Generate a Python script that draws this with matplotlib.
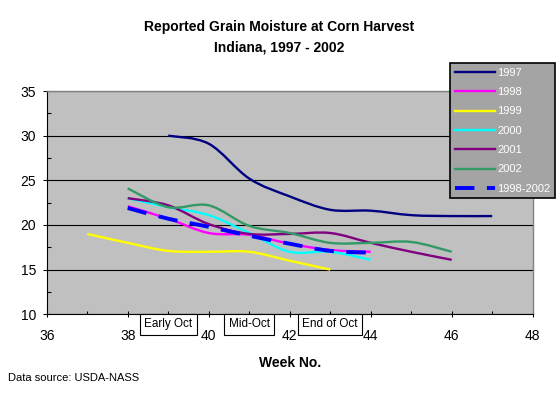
import matplotlib
matplotlib.use("Agg")
import matplotlib.pyplot as plt
import numpy as np
from matplotlib.path import Path
from matplotlib.patches import PathPatch
from matplotlib.lines import Line2D
from matplotlib.ticker import MultipleLocator

plt.rcParams['font.family'] = ['Liberation Sans', 'DejaVu Sans']

# moisture (%) by week number
weeks_1997 = [39, 40, 41, 42, 43, 44, 45, 46, 47]
moist_1997 = [30.0, 29.1, 25.2, 23.2, 21.7, 21.6, 21.1, 21.0, 21.0]

weeks_1998 = [38, 39, 40, 41, 42, 43, 44]
moist_1998 = [22.1, 20.7, 19.1, 18.9, 17.9, 17.2, 17.0]

weeks_1999 = [37, 38, 39, 40, 41, 42, 43]
moist_1999 = [19.0, 18.0, 17.1, 17.0, 17.0, 16.0, 15.0]

weeks_2000 = [38, 39, 40, 41, 42, 43, 44]
moist_2000 = [23.0, 22.0, 21.1, 19.1, 17.0, 17.0, 16.1]

weeks_2001 = [38, 39, 40, 41, 42, 43, 44, 45, 46]
moist_2001 = [23.0, 22.2, 20.1, 19.0, 19.0, 19.1, 18.0, 17.0, 16.1]

weeks_2002 = [38, 39, 40, 41, 42, 43, 44, 45, 46]
moist_2002 = [24.1, 22.0, 22.2, 19.9, 19.1, 18.0, 18.0, 18.1, 17.0]

weeks_avg = [38, 39, 40, 41, 42, 43, 44]
moist_avg = [21.9, 20.7, 19.8, 18.8, 17.9, 17.1, 16.9]

periods = ["Early Oct", "Mid-Oct", "End of Oct"]
period_weeks = [39, 41, 43]


def smooth_path(x, y):
    # excel style smoothed line: cubic bezier through every point
    pts = np.column_stack([x, y]).astype(float)
    n = len(pts)
    verts = [pts[0]]
    codes = [Path.MOVETO]
    for i in range(n - 1):
        p0 = pts[max(i - 1, 0)]
        p1 = pts[i]
        p2 = pts[i + 1]
        p3 = pts[min(i + 2, n - 1)]
        verts += [p1 + (p2 - p0) / 6, p2 - (p3 - p1) / 6, p2]
        codes += [Path.CURVE4] * 3
    return Path(verts, codes)


series = [
    ("1997", weeks_1997, moist_1997, "#000080", "-"),
    ("1998", weeks_1998, moist_1998, "#ff00ff", "-"),
    ("1999", weeks_1999, moist_1999, "#ffff00", "-"),
    ("2000", weeks_2000, moist_2000, "#00ffff", "-"),
    ("2001", weeks_2001, moist_2001, "#800080", "-"),
    ("2002", weeks_2002, moist_2002, "#339966", "-"),
    ("1998-2002", weeks_avg, moist_avg, "#0000ff", "--"),
]

fig = plt.figure(figsize=(5.58, 3.99), dpi=100)
ax = fig.add_axes([0.0837, 0.2123, 0.8710, 0.5596])
ax.set_facecolor("#c0c0c0")
ax.set_xlim(36, 48)
ax.set_ylim(10, 35)

ax.xaxis.set_major_locator(MultipleLocator(2))
ax.xaxis.set_minor_locator(MultipleLocator(1))
ax.yaxis.set_major_locator(MultipleLocator(5))
ax.yaxis.set_minor_locator(MultipleLocator(2.5))
ax.tick_params(axis="both", which="major", direction="inout", width=0.75,
               labelsize=10)
ax.tick_params(axis="y", which="major", length=5.5, pad=5)
ax.tick_params(axis="x", which="major", length=4.8, pad=8.5)
ax.tick_params(axis="y", which="minor", direction="in", length=2.8, width=0.75)
ax.tick_params(axis="x", which="minor", direction="in", length=2.2, width=0.75)
ax.tick_params(which="both", top=False, right=False)

ax.set_axisbelow(True)
ax.yaxis.grid(True, which="major", color="black", linewidth=0.8)

for side in ["top", "right"]:
    ax.spines[side].set_color("#808080")
    ax.spines[side].set_linewidth(1.0)
for side in ["left", "bottom"]:
    ax.spines[side].set_linewidth(0.8)

handles = []
for name, wk, val, col, ls in series:
    if ls == "--":
        lw = 2.8
        style = (0, (5.0, 3.2))
    else:
        lw = 1.7
        style = "-"
    patch = PathPatch(smooth_path(wk, val), fill=False, edgecolor=col,
                      linewidth=lw, linestyle=style, capstyle="butt",
                      joinstyle="round", zorder=3)
    ax.add_patch(patch)
    handles.append(Line2D([], [], color=col, linewidth=lw, linestyle=style,
                          label=name))

for label, wk in zip(periods, period_weeks):
    ax.annotate(label, xy=(wk, 0), xycoords=("data", "axes fraction"),
                xytext=(0, -7.0), textcoords="offset points",
                ha="center", va="center", fontsize=8.5,
                annotation_clip=False, zorder=5,
                bbox=dict(boxstyle="square,pad=0.38", facecolor="white",
                          edgecolor="black", linewidth=0.8))

ax.set_xlabel("Week No.", fontsize=10, fontweight="bold", labelpad=9)

fig.text(0.5, 1 - 27 / 399, "Reported Grain Moisture at Corn Harvest",
         ha="center", va="center", fontsize=10, fontweight="bold")
fig.text(0.5, 1 - 48 / 399, "Indiana, 1997 - 2002",
         ha="center", va="center", fontsize=10, fontweight="bold")
fig.text(8 / 558, 1 - 378 / 399, "Data source: USDA-NASS",
         ha="left", va="center", fontsize=8)

leg = fig.legend(handles=handles, loc="upper left",
                 bbox_to_anchor=(450.3 / 558, 1 - 63.3 / 399),
                 fontsize=8, frameon=True, fancybox=False, shadow=False,
                 handlelength=3.6, handletextpad=0.2, labelspacing=0.84,
                 borderpad=0.4, borderaxespad=0)
frame = leg.get_frame()
frame.set_facecolor("#a4a4a4")
frame.set_edgecolor("black")
frame.set_linewidth(1.2)
frame.set_alpha(1)
for t in leg.get_texts():
    t.set_color("white")

fig.savefig("out.png", dpi=100)
